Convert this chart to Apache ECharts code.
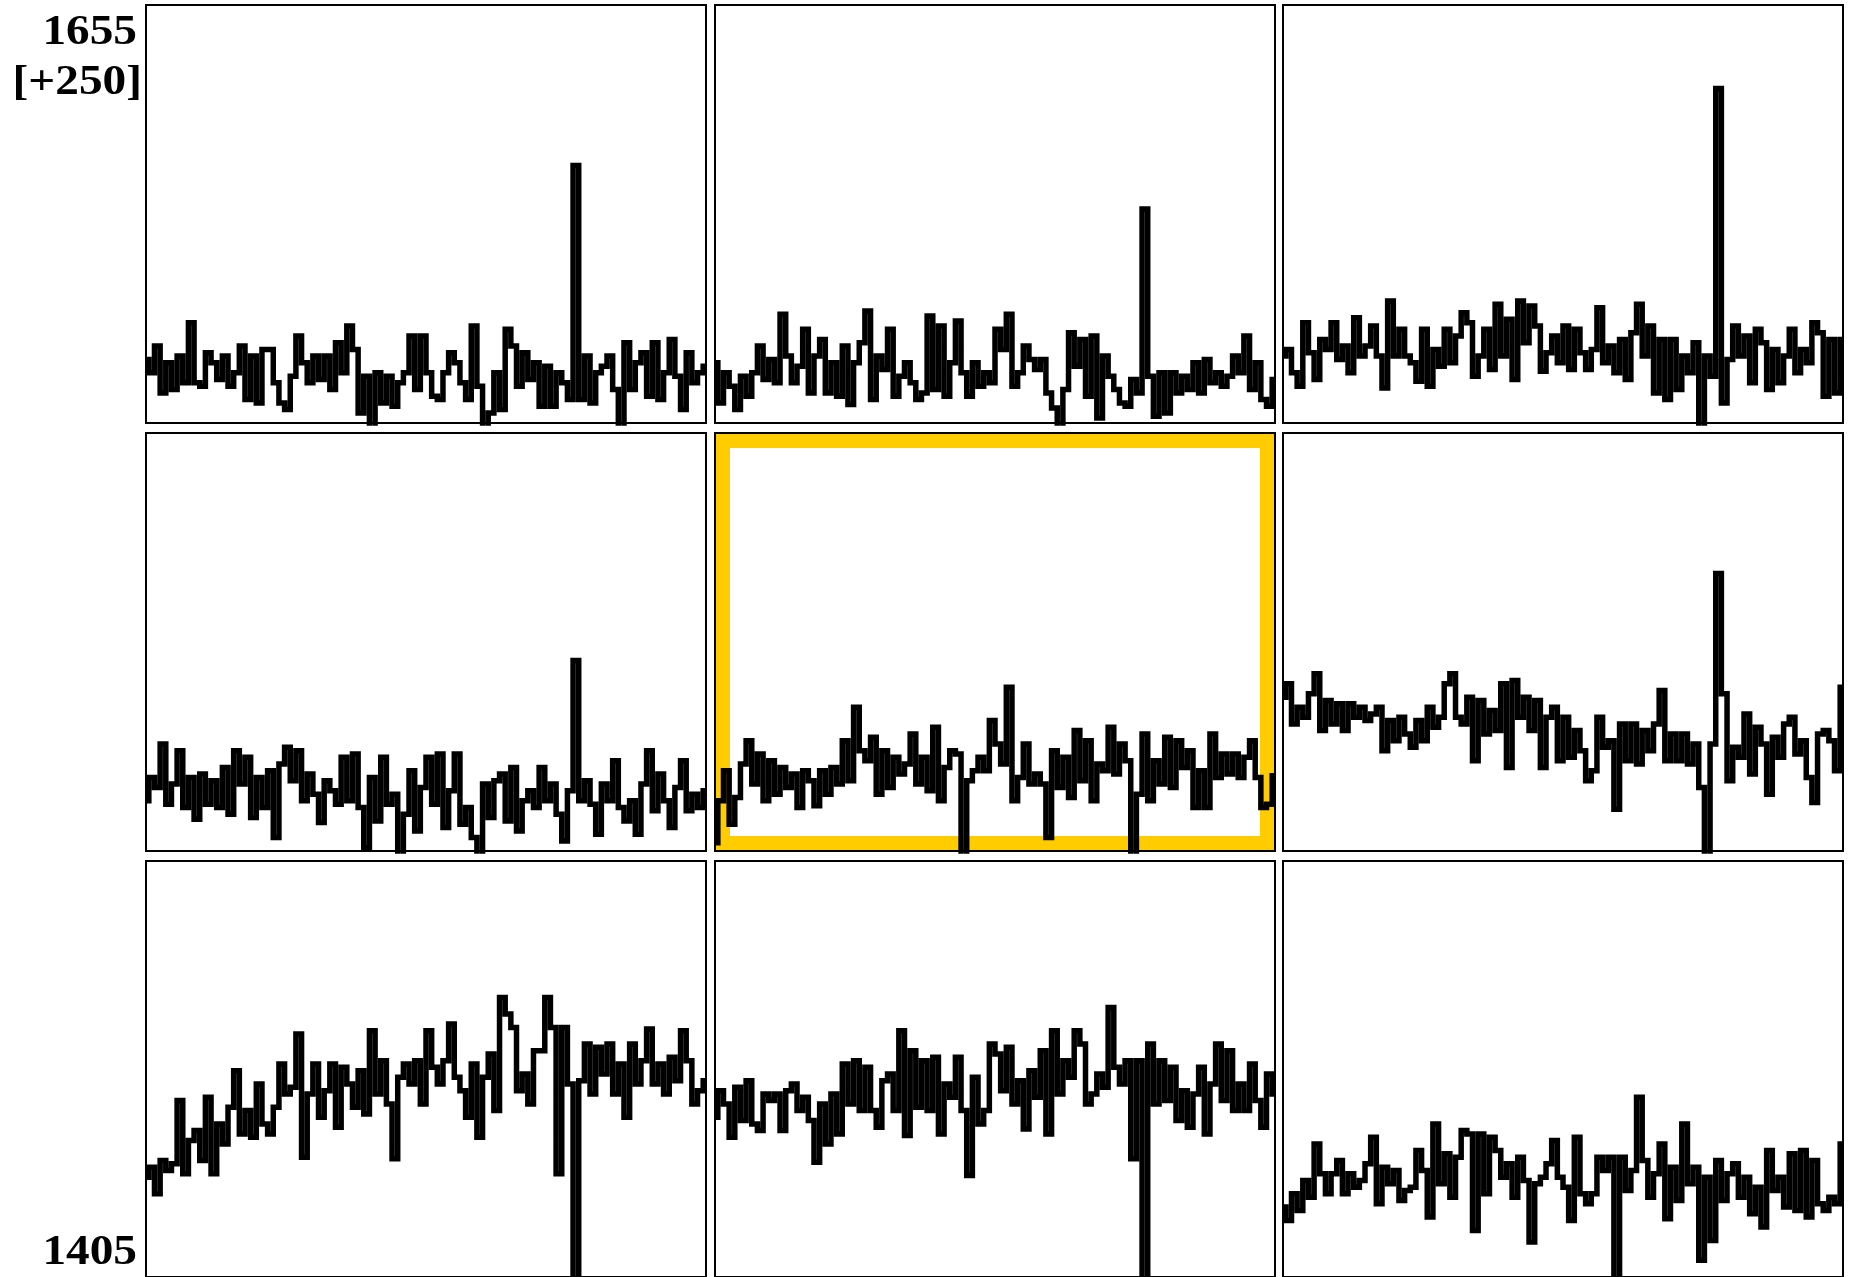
<!DOCTYPE html>
<html><head><meta charset="utf-8">
<script src="https://cdn.jsdelivr.net/npm/echarts@6/dist/echarts.min.js"></script>
<style>html,body{margin:0;padding:0;background:#fff;overflow:hidden}#c{width:1849px;height:1277px}</style>
</head><body><div id="c"></div><script>
// y-range shared by all panels and labels
const yMax = 1655;
const yMin = 1405;
const topLabel = '1655';
const rangeLabel = '[+250]';
const bottomLabel = '1405';

// panel values, row by row (left to right)
const panel1 = [1443,1435,1451,1423,1441,1425,1445,1429,1465,1429,
1427,1447,1441,1431,1445,1427,1435,1451,1419,1445,
1417,1449,1449,1429,1417,1413,1433,1457,1441,1429,
1445,1431,1445,1425,1453,1435,1463,1449,1411,1433,
1395,1435,1417,1433,1415,1429,1435,1457,1425,1457,
1435,1421,1419,1435,1447,1441,1429,1419,1463,1427,
1395,1411,1435,1413,1461,1451,1427,1447,1431,1441,
1415,1439,1415,1435,1429,1419,1559,1419,1445,1417,
1435,1439,1445,1425,1395,1453,1425,1441,1447,1421,
1453,1419,1435,1455,1433,1413,1447,1429,1435,1439];
const panel2 = [1441,1417,1435,1427,1413,1433,1421,1435,1451,1431,
1443,1429,1470,1445,1429,1439,1461,1423,1445,1455,
1423,1441,1421,1451,1416,1441,1453,1472,1419,1445,
1437,1461,1421,1433,1441,1429,1419,1423,1469,1425,
1463,1421,1441,1466,1435,1421,1441,1427,1435,1429,
1461,1449,1470,1427,1435,1451,1443,1437,1443,1423,
1414,1395,1425,1459,1439,1455,1421,1457,1408,1445,
1433,1425,1417,1415,1431,1423,1533,1433,1409,1435,
1411,1435,1423,1433,1425,1441,1423,1443,1429,1435,
1427,1433,1445,1435,1457,1425,1441,1419,1415,1431];
const panel3 = [1445,1449,1435,1427,1465,1447,1431,1455,1449,1465,
1443,1451,1435,1468,1445,1451,1463,1445,1426,1478,
1445,1461,1445,1441,1430,1461,1427,1449,1439,1461,
1441,1457,1471,1465,1433,1445,1461,1437,1476,1445,
1467,1431,1478,1453,1475,1463,1436,1447,1457,1441,
1463,1437,1461,1447,1437,1449,1474,1441,1451,1435,
1455,1431,1459,1476,1445,1463,1423,1455,1419,1455,
1425,1445,1435,1453,1395,1445,1433,1605,1417,1443,
1463,1445,1457,1429,1461,1453,1425,1449,1429,1445,
1461,1435,1449,1441,1465,1459,1421,1455,1423,1455];
const panel4 = [1435,1449,1443,1469,1433,1445,1465,1431,1449,1424,
1451,1433,1447,1431,1455,1427,1465,1445,1461,1425,
1449,1431,1453,1413,1457,1467,1447,1465,1435,1451,
1439,1422,1447,1441,1433,1461,1435,1463,1431,1407,
1449,1423,1461,1433,1439,1395,1427,1453,1417,1443,
1461,1433,1463,1419,1441,1463,1421,1431,1413,1395,
1445,1425,1447,1451,1423,1455,1417,1435,1441,1431,
1455,1435,1445,1427,1411,1441,1519,1435,1447,1433,
1415,1445,1435,1459,1431,1423,1435,1415,1445,1465,
1429,1451,1435,1419,1443,1459,1429,1439,1431,1441];
const panel5 = [1410,1435,1453,1421,1437,1457,1471,1445,1463,1435,
1459,1439,1455,1443,1451,1431,1453,1447,1432,1453,
1439,1455,1445,1471,1447,1491,1465,1459,1473,1439,
1465,1443,1461,1451,1457,1475,1445,1461,1441,1479,
1435,1455,1465,1463,1395,1447,1453,1461,1453,1483,
1469,1457,1503,1435,1449,1469,1445,1451,1445,1413,
1465,1443,1461,1437,1477,1447,1471,1435,1457,1453,
1479,1451,1469,1459,1395,1439,1475,1435,1459,1445,
1473,1443,1471,1455,1465,1431,1453,1431,1475,1449,
1463,1451,1463,1449,1461,1471,1449,1431,1433,1450];
const panel6 = [1497,1505,1481,1491,1485,1499,1511,1477,1495,1481,
1493,1477,1493,1485,1491,1483,1487,1491,1465,1483,
1471,1485,1475,1467,1483,1471,1491,1479,1485,1505,
1511,1485,1481,1497,1459,1495,1475,1489,1477,1505,
1455,1507,1485,1497,1477,1495,1455,1485,1491,1459,
1485,1461,1477,1465,1447,1453,1485,1467,1471,1430,
1481,1459,1481,1457,1477,1465,1481,1501,1459,1475,
1459,1475,1457,1469,1443,1395,1469,1571,1499,1447,
1467,1461,1487,1451,1479,1469,1439,1473,1461,1481,
1485,1463,1471,1449,1434,1475,1477,1471,1453,1503];
const panel7 = [1465,1471,1455,1475,1469,1473,1511,1467,1487,1493,
1475,1513,1467,1497,1485,1507,1529,1491,1505,1489,
1521,1497,1491,1507,1533,1515,1519,1551,1477,1515,
1533,1501,1517,1533,1495,1531,1521,1507,1529,1503,
1553,1515,1535,1509,1476,1525,1533,1521,1535,1509,
1553,1531,1521,1535,1557,1525,1517,1501,1533,1489,
1525,1539,1505,1573,1563,1555,1517,1527,1509,1541,
1541,1573,1555,1467,1555,1521,1385,1523,1545,1515,
1543,1527,1545,1515,1533,1501,1545,1521,1535,1554,
1521,1533,1515,1537,1523,1553,1535,1509,1517,1523];
const panel8 = [1501,1517,1509,1489,1519,1499,1523,1497,1493,1515,
1511,1515,1493,1517,1521,1505,1513,1499,1474,1509,
1485,1515,1491,1533,1509,1535,1505,1531,1505,1495,
1523,1527,1505,1553,1490,1541,1507,1535,1505,1537,
1491,1521,1513,1537,1505,1466,1525,1497,1505,1545,
1539,1517,1543,1509,1523,1494,1529,1513,1541,1491,
1553,1515,1535,1525,1553,1545,1509,1515,1527,1519,
1567,1531,1521,1535,1476,1535,1385,1545,1509,1535,
1511,1531,1499,1517,1495,1515,1531,1491,1521,1545,
1511,1541,1505,1521,1505,1533,1511,1495,1527,1515];
const panel9 = [1447,1439,1455,1445,1463,1453,1485,1467,1455,1467,
1475,1455,1467,1459,1463,1473,1489,1449,1471,1461,
1469,1451,1457,1459,1481,1469,1441,1497,1461,1479,
1453,1477,1493,1491,1433,1491,1455,1489,1481,1465,
1473,1453,1477,1463,1426,1461,1465,1473,1487,1465,
1459,1439,1489,1455,1449,1455,1477,1469,1477,1395,
1477,1457,1469,1513,1475,1453,1467,1485,1440,1471,
1451,1497,1461,1471,1415,1465,1427,1475,1451,1467,
1473,1453,1465,1443,1459,1435,1481,1457,1465,1447,
1479,1445,1481,1441,1475,1449,1445,1453,1449,1485];

const panels = [panel1, panel2, panel3, panel4, panel5, panel6, panel7, panel8, panel9];
const highlightIndex = 4;

// layout
const colLeft = [146, 715, 1283];
const rowTop = [5, 433, 861];
const cellW = 560, cellH = 418;
const frameW = 14;
const labelFont = 'bold 43px "Liberation Serif", "Times New Roman", serif';

const chart = echarts.init(document.getElementById('c'), null, {renderer: 'canvas'});
const grid = [], xAxis = [], yAxis = [], series = [];
panels.forEach((vals, k) => {
  const r = Math.floor(k / 3), c = k % 3;
  grid.push({left: colLeft[c], top: rowTop[r], width: cellW, height: cellH,
    show: true, borderColor: '#000', borderWidth: 2, backgroundColor: '#fff', containLabel: false});
  xAxis.push({gridIndex: k, type: 'category', boundaryGap: false,
    data: vals.map((_, i) => i), show: false});
  yAxis.push({gridIndex: k, type: 'value', min: yMin, max: yMax, show: false});
  series.push({type: 'line', xAxisIndex: k, yAxisIndex: k, data: vals, step: 'middle',
    symbol: 'none', showSymbol: false, clip: true, z: 3,
    lineStyle: {color: '#000', width: 5.5, cap: 'butt', join: 'miter'}});
});

const hr = Math.floor(highlightIndex / 3), hc = highlightIndex % 3;
function label(text, x, y) {
  return {type: 'text', z: 5, x: x, y: y, scaleX: 1.1, silent: true,
    style: {text: text, x: 0, y: 0, textAlign: 'right', textVerticalAlign: 'middle', font: labelFont, fill: '#000'}};
}
const graphic = [
  {type: 'rect', z: 2, silent: true,
    shape: {x: colLeft[hc] + 1 + frameW / 2, y: rowTop[hr] + 1 + frameW / 2,
      width: cellW - 2 - frameW, height: cellH - 2 - frameW},
    style: {fill: 'transparent', stroke: '#FFCC00', lineWidth: frameW}},
  label(topLabel, 137, 33),
  label(rangeLabel, 142, 83),
  label(bottomLabel, 137, 1253)
];

chart.setOption({animation: false, backgroundColor: '#fff', grid, xAxis, yAxis, series, graphic});
</script></body></html>
